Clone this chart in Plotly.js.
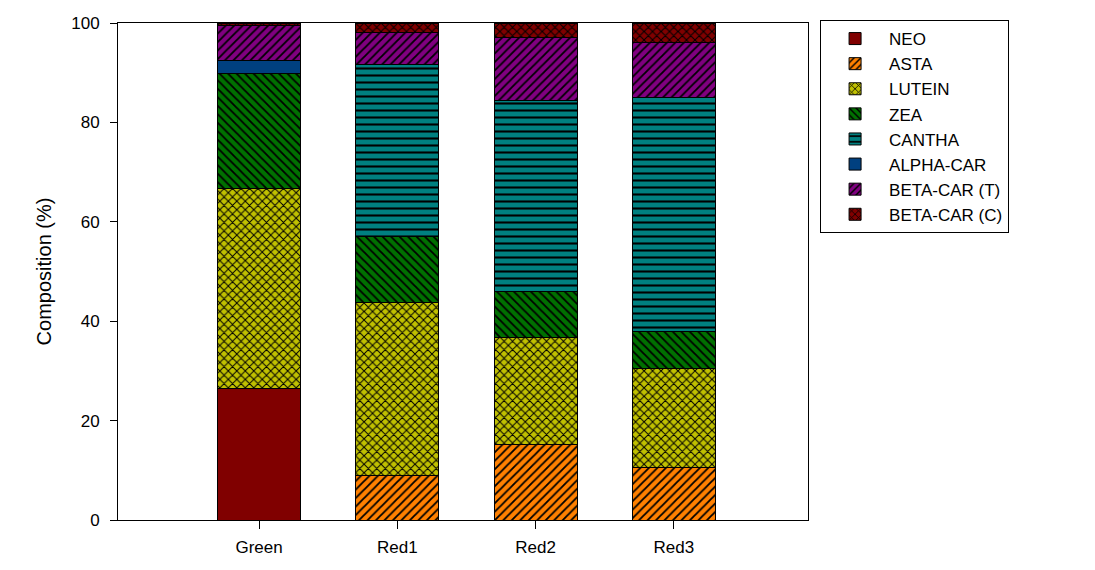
<!DOCTYPE html>
<html>
<head>
<meta charset="utf-8">
<script src="https://cdn.plot.ly/plotly-3.0.1.min.js"></script>
<style>html,body{margin:0;padding:0;background:#fff;}#chart{width:1095px;height:570px;}</style>
</head>
<body>
<div id="chart"></div>
<script>
const categories = ["Green", "Red1", "Red2", "Red3"];
const NEO      = [26.5, 0, 0, 0];
const ASTA     = [0, 9.05, 15.2, 10.6];
const LUTEIN   = [40.3, 34.75, 21.6, 19.9];
const ZEA      = [23.1, 13.3, 9.2, 7.5];
const CANTHA   = [0, 34.6, 38.4, 47.0];
const ALPHACAR = [2.5, 0, 0, 0];
const BETACAR_T = [7.1, 6.4, 12.7, 11.1];
const BETACAR_C = [0.5, 1.9, 2.9, 3.9];
const yTicks = [0, 20, 40, 60, 80, 100];

const series = [
  {name: "NEO", y: NEO, color: "#800000", shape: ""},
  {name: "ASTA", y: ASTA, color: "#ff8000", shape: "/"},
  {name: "LUTEIN", y: LUTEIN, color: "#c0c000", shape: "x"},
  {name: "ZEA", y: ZEA, color: "#007000", shape: "\\"},
  {name: "CANTHA", y: CANTHA, color: "#008080", shape: "-"},
  {name: "ALPHA-CAR", y: ALPHACAR, color: "#004080", shape: ""},
  {name: "BETA-CAR (T)", y: BETACAR_T, color: "#800080", shape: "/"},
  {name: "BETA-CAR (C)", y: BETACAR_C, color: "#800000", shape: "x"}
];

const traces = series.map(s => ({
  type: "bar",
  name: s.name,
  x: categories,
  y: s.y,
  marker: {
    color: s.color,
    line: {color: "#000", width: 1},
    pattern: s.shape ? {shape: s.shape, fgcolor: "#000", bgcolor: s.color, size: s.shape === "-" ? 7 : 6, solidity: 0.3, fillmode: "replace"} : {shape: ""}
  },
  hoverinfo: "name+y"
}));

const font = {family: "Liberation Sans, Arial, sans-serif", color: "#000"};

const layout = {
  width: 1095, height: 570,
  paper_bgcolor: "#fff", plot_bgcolor: "#fff",
  margin: {l: 118, r: 287, t: 23, b: 50},
  barmode: "stack",
  bargap: 0.4,
  font: Object.assign({size: 17}, font),
  showlegend: true,
  legend: {
    x: 1.0175, y: 1.006, xanchor: "left", yanchor: "top",
    traceorder: "normal",
    bordercolor: "#000", borderwidth: 1,
    font: Object.assign({size: 17}, font),
    itemwidth: 58,
    tracegroupgap: 0
  },
  xaxis: {
    type: "category",
    range: [-1.02, 3.97],
    showline: true, linecolor: "#000", linewidth: 1, mirror: true,
    ticks: "outside", ticklen: 8, tickcolor: "#000",
    ticklabelstandoff: 4,
    showgrid: false, zeroline: false,
    tickfont: Object.assign({size: 17}, font)
  },
  yaxis: {
    range: [0, 100],
    tickvals: yTicks,
    ticktext: yTicks.map(String),
    showline: true, linecolor: "#000", linewidth: 1, mirror: true,
    ticks: "outside", ticklen: 7, tickcolor: "#000",
    ticklabelstandoff: 7,
    showgrid: false, zeroline: false,
    tickfont: Object.assign({size: 17}, font),
    title: {text: "Composition (%)", font: Object.assign({size: 20}, font), standoff: 14}
  }
};

Plotly.newPlot("chart", traces, layout, {displayModeBar: false, staticPlot: true});
</script>
</body>
</html>
